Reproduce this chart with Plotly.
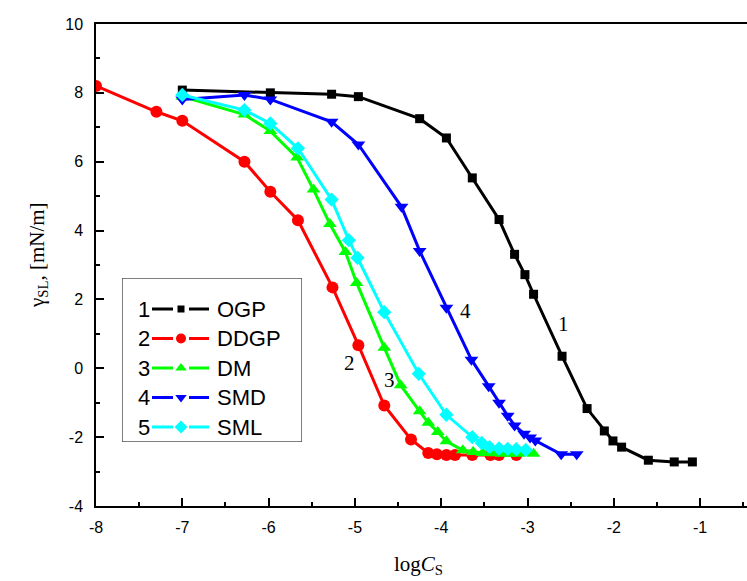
import plotly.graph_objects as go

# ---------------- data ----------------
ogp_x = [-7.0, -5.98, -5.27, -4.96, -4.25, -3.94, -3.64, -3.33, -3.15, -3.03, -2.93,
         -2.60, -2.31, -2.11, -2.01, -1.91, -1.60, -1.30, -1.09]
ogp_y = [8.08, 8.0, 7.96, 7.89, 7.25, 6.69, 5.53, 4.32, 3.31, 2.72, 2.15,
         0.35, -1.17, -1.82, -2.11, -2.29, -2.67, -2.72, -2.72]

ddgp_x = [-8.0, -7.30, -7.0, -6.28, -5.98, -5.66, -5.26, -4.96, -4.66, -4.35,
          -4.15, -4.05, -3.94, -3.84, -3.64, -3.43, -3.33, -3.13]
ddgp_y = [8.2, 7.45, 7.19, 6.0, 5.13, 4.30, 2.35, 0.67, -1.08, -2.07,
          -2.46, -2.50, -2.52, -2.52, -2.52, -2.52, -2.52, -2.52]

dm_x = [-7.0, -6.28, -5.98, -5.67, -5.48, -5.29, -5.11, -4.98, -4.66, -4.47,
        -4.25, -4.15, -4.04, -3.94, -3.75, -3.63, -3.52, -3.40, -3.30, -3.20, -3.10, -2.93]
dm_y = [7.89, 7.37, 6.89, 6.12, 5.19, 4.19, 3.38, 2.48, 0.60, -0.49,
        -1.25, -1.58, -1.85, -2.12, -2.38, -2.43, -2.46, -2.47, -2.48, -2.48, -2.48, -2.48]

smd_x = [-7.0, -6.28, -5.98, -5.27, -4.96, -4.46, -4.25, -3.94, -3.65, -3.45,
         -3.33, -3.23, -3.15, -3.04, -2.97, -2.91, -2.61, -2.43]
smd_y = [7.81, 7.94, 7.81, 7.16, 6.50, 4.69, 3.41, 1.76, 0.25, -0.52,
         -1.00, -1.38, -1.66, -1.90, -2.01, -2.10, -2.50, -2.50]

sml_x = [-7.0, -6.28, -5.98, -5.66, -5.27, -5.07, -4.97, -4.66, -4.26, -3.94,
         -3.64, -3.53, -3.44, -3.33, -3.23, -3.13, -3.02]
sml_y = [7.94, 7.50, 7.11, 6.39, 4.90, 3.72, 3.21, 1.63, -0.16, -1.35,
         -2.0, -2.17, -2.29, -2.33, -2.34, -2.35, -2.37]

series_nums = ["1", "2", "3", "4", "5"]
series_names = ["OGP", "DDGP", "DM", "SMD", "SML"]
series_colors = ["#000000", "#ff0000", "#00ff00", "#0000ff", "#00ffff"]
series_symbols = ["square", "circle", "triangle-up", "triangle-down", "diamond"]
series_sizes = [9, 12, 12, 12, 11]
legend_sizes = [7, 10, 10, 10, 10]

curve_labels = ["1", "2", "3", "4"]
curve_label_x = [-2.58, -5.06, -4.60, -3.72]
curve_label_y = [1.30, 0.16, -0.35, 1.67]

x_ticks = [-8, -7, -6, -5, -4, -3, -2, -1]
y_ticks = [-4, -2, 0, 2, 4, 6, 8, 10]

xs = [ogp_x, ddgp_x, dm_x, smd_x, sml_x]
ys = [ogp_y, ddgp_y, dm_y, smd_y, sml_y]

fig = go.Figure()
for i in range(5):
    fig.add_trace(go.Scatter(
        x=xs[i], y=ys[i], mode="lines+markers",
        line=dict(color=series_colors[i], width=3),
        marker=dict(symbol=series_symbols[i], size=series_sizes[i],
                    color=series_colors[i], line=dict(width=0)),
        showlegend=False, name=series_names[i]))

# ---------------- hand-built legend on an overlay axis (pixel units) ----------------
W, H = 747, 581
ML, MR, MT, MB = 96, 0, 24, 75
pw, ph = W - ML - MR, H - MT - MB
bx0, bx1, by0, by1 = 122, 302, 278, 442


def px2paper_x(p):
    return (p - ML) / pw


def px2paper_y(p):
    return (H - MB - p) / ph


row_y = [309, 338.5, 368, 397.5, 427]
for i in range(5):
    yy = row_y[i]
    for seg in ([152, 173], [189, 209]):
        fig.add_trace(go.Scatter(x=seg, y=[yy, yy], mode="lines", xaxis="x2", yaxis="y2",
                                 line=dict(color=series_colors[i], width=3),
                                 showlegend=False, hoverinfo="skip"))
    fig.add_trace(go.Scatter(x=[181], y=[yy], mode="markers", xaxis="x2", yaxis="y2",
                             marker=dict(symbol=series_symbols[i], size=legend_sizes[i],
                                         color=series_colors[i]),
                             showlegend=False, hoverinfo="skip"))
    fig.add_annotation(x=152, y=yy, xref="x2", yref="y2", text=series_nums[i],
                       showarrow=False, xanchor="right", yanchor="middle",
                       font=dict(family="Liberation Sans", size=22, color="black"))
    fig.add_annotation(x=215, y=yy, xref="x2", yref="y2", text=series_names[i],
                       showarrow=False, xanchor="left", yanchor="middle",
                       font=dict(family="Liberation Sans", size=22, color="black"))

fig.add_shape(type="rect", xref="x2", yref="y2", x0=bx0, x1=bx1, y0=by0, y1=by1,
              line=dict(color="#555555", width=1.5), fillcolor="rgba(0,0,0,0)", layer="above")

for t, lx, ly in zip(curve_labels, curve_label_x, curve_label_y):
    fig.add_annotation(x=lx, y=ly, text=t, showarrow=False,
                       xanchor="center", yanchor="middle",
                       font=dict(family="Liberation Serif", size=21, color="black"))

# axis titles
fig.add_annotation(x=px2paper_x(38), y=px2paper_y(255), xref="paper", yref="paper",
                   text="γ<sub>SL</sub>, [mN/m]", textangle=-90, showarrow=False,
                   xanchor="center", yanchor="middle",
                   font=dict(family="Liberation Serif", size=21, color="black"))
fig.add_annotation(x=px2paper_x(418), y=px2paper_y(565), xref="paper", yref="paper",
                   text="log<i>C</i><sub>S</sub>", showarrow=False,
                   xanchor="center", yanchor="middle",
                   font=dict(family="Liberation Serif", size=21, color="black"))

fig.update_layout(
    width=W, height=H,
    margin=dict(l=ML, r=MR, t=MT, b=MB),
    paper_bgcolor="white", plot_bgcolor="white",
    xaxis=dict(range=[-8, -0.457], tickvals=x_ticks, ticktext=[str(v) for v in x_ticks],
               showgrid=False, zeroline=False, showline=True, linecolor="black",
               linewidth=1.5, mirror=True, ticks="inside", ticklen=8, tickwidth=1.5,
               tickcolor="black", ticklabelstandoff=6,
               minor=dict(dtick=0.5, tick0=0, ticks="inside", ticklen=4, tickwidth=1.5,
                          tickcolor="black", showgrid=False),
               tickfont=dict(family="Liberation Sans", size=16, color="black")),
    yaxis=dict(range=[-4, 10], tickvals=y_ticks, ticktext=[str(v) for v in y_ticks],
               showgrid=False, zeroline=False, showline=True, linecolor="black",
               linewidth=1.5, mirror=False, ticks="inside", ticklen=8, tickwidth=1.5,
               tickcolor="black", ticklabelstandoff=8,
               minor=dict(dtick=1, tick0=0, ticks="inside", ticklen=4, tickwidth=1.5,
                          tickcolor="black", showgrid=False),
               tickfont=dict(family="Liberation Sans", size=16, color="black")),
    xaxis2=dict(domain=[px2paper_x(bx0), px2paper_x(bx1)], range=[bx0, bx1],
                visible=False, anchor="y2"),
    yaxis2=dict(domain=[px2paper_y(by1), px2paper_y(by0)], range=[by1, by0],
                visible=False, anchor="x2"),
    showlegend=False,
)

fig.write_html("out.html")
